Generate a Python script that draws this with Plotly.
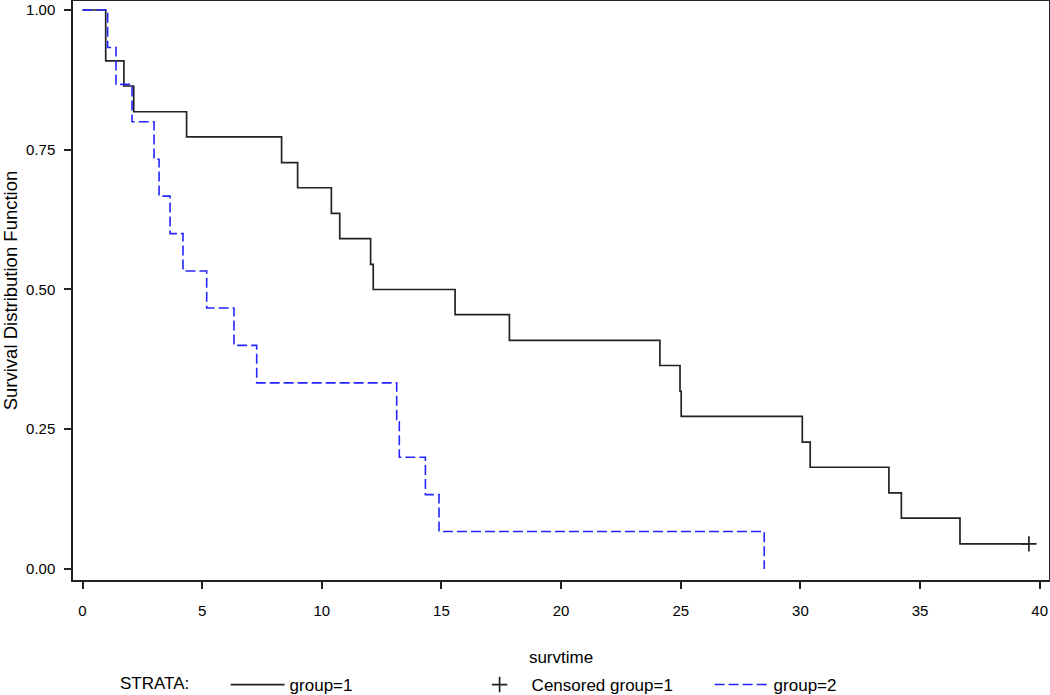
import plotly.graph_objects as go

# Group 1 (solid black) event times and survival estimates after each event
g1_times = [0.97, 1.73, 2.14, 4.35, 8.32, 8.99, 10.40, 10.75, 12.04, 12.15,
            15.57, 17.84, 24.13, 24.97, 25.02, 30.08, 30.41, 33.70, 34.22, 36.67]
g1_surv = [0.909, 0.864, 0.818, 0.773, 0.727, 0.682, 0.636, 0.591, 0.545, 0.500,
           0.455, 0.409, 0.364, 0.318, 0.273, 0.227, 0.182, 0.136, 0.091, 0.045]
g1_censor_time = [39.55]
g1_censor_surv = [0.045]

# Group 2 (dashed blue)
g2_times = [1.05, 1.40, 2.07, 2.99, 3.20, 3.66, 4.20, 5.19, 6.33, 7.28,
            13.13, 13.24, 14.33, 14.90, 28.49]
g2_surv = [0.933, 0.867, 0.800, 0.733, 0.667, 0.600, 0.533, 0.467, 0.400, 0.333,
           0.267, 0.200, 0.133, 0.067, 0.000]

x_ticks = [0, 5, 10, 15, 20, 25, 30, 35, 40]
y_ticks = [0.00, 0.25, 0.50, 0.75, 1.00]
y_tick_labels = ["0.00", "0.25", "0.50", "0.75", "1.00"]

FONT = "Liberation Sans, Arial, Helvetica, sans-serif"
BLACK = "#222222"
BLUE = "#2525ff"

fig = go.Figure()

fig.add_trace(go.Scatter(
    x=[0] + g1_times + g1_censor_time,
    y=[1.0] + g1_surv + g1_censor_surv,
    mode="lines", line=dict(color=BLACK, width=1.7, shape="hv"),
    name="group=1",
))
fig.add_trace(go.Scatter(
    x=g1_censor_time, y=g1_censor_surv,
    mode="markers",
    marker=dict(symbol="cross-thin", size=11, line=dict(color=BLACK, width=1.7)),
    name="Censored group=1",
))
fig.add_trace(go.Scatter(
    x=[0] + g2_times,
    y=[1.0] + g2_surv,
    mode="lines", line=dict(color=BLUE, width=1.6, shape="hv", dash="10px,4px"),
    name="group=2",
))

axis_common = dict(
    showgrid=False, zeroline=False, showline=True, mirror=True,
    linecolor=BLACK, linewidth=1.5, ticks="outside", ticklen=7,
    tickcolor=BLACK, tickwidth=1.5, automargin=False,
    tickfont=dict(family=FONT, size=15, color="black"),
)

fig.update_layout(
    width=1050, height=695,
    margin=dict(l=73, r=1, t=1, b=115, autoexpand=False),
    paper_bgcolor="white", plot_bgcolor="white",
    font=dict(family=FONT, size=15, color="black"),
    xaxis=dict(
        range=[-0.397, 40.39], tickvals=x_ticks,
        ticklabelstandoff=9,
        title=dict(text="survtime", font=dict(family=FONT, size=17), standoff=33),
        **axis_common,
    ),
    yaxis=dict(
        range=[-0.0197, 1.0161], tickvals=y_ticks, ticktext=y_tick_labels,
        ticklabelstandoff=6,
        title=dict(text="Survival Distribution Function", font=dict(family=FONT, size=18.5), standoff=14),
        **axis_common,
    ),
    showlegend=True,
    legend=dict(
        orientation="h", xref="container", yref="container",
        x=118 / 1050, xanchor="left", y=10 / 695, yanchor="middle",
        title=dict(text="STRATA:      ", font=dict(family=FONT, size=17), side="left"),
        font=dict(family=FONT, size=17, color="black"),
        entrywidth=173, entrywidthmode="pixels",
        itemwidth=54, bgcolor="rgba(0,0,0,0)",
    ),
)

fig.write_html("out.html", config={"displayModeBar": False},
               post_script="document.body.style.margin='0';")
